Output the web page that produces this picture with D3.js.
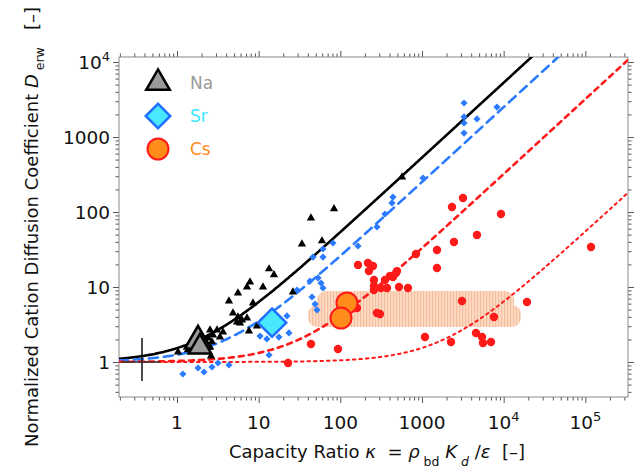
<!DOCTYPE html>
<html>
<head>
<meta charset="utf-8">
<script src="https://cdn.jsdelivr.net/npm/d3@7/dist/d3.min.js"></script>
<style>
  html, body { margin: 0; padding: 0; background: #fff; }
  svg { display: block; font-family: "DejaVu Sans", "Liberation Sans", Arial, sans-serif; }
  text { white-space: pre; }
</style>
</head>
<body>
<svg id="chart" width="640" height="473"></svg>
<script>
// ---- data: [capacity ratio kappa, normalized diffusion coefficient D] ----
const naPoints = [
  [1.03,1.36],[1.36,1.45],[2.08,1.54],[2.54,1.58],[2.68,1.85],[2.40,2.09],[2.76,2.29],
  [2.54,2.67],[3.09,2.67],[3.36,2.15],[3.66,2.51],[2.61,1.20],[4.33,6.51],[4.85,4.50],
  [5.43,3.41],[5.58,3.98],[5.91,3.31],[6.25,3.63],[7.20,3.86],[5.58,8.32],[7.20,10.0],
  [7.83,11.66],[11.3,10.0],[8.52,6.12],[7.61,2.59],[9.54,3.02],[13.4,17.4],[15.4,14.5],
  [26.3,8.58],[33.9,37.4],[43.7,83.2],[59.6,41.1],[83.7,110],[569,293]
];
const srPoints = [
  [1.18,0.692],[1.81,0.832],[2.14,0.736],[2.68,0.858],[3.18,0.97],[4.33,0.912],[13.4,1.24],
  [10.4,2.22],[12.6,2.03],[17.7,2.15],[23.5,2.44],[22.2,4.11],[29.5,9.12],[46.3,25.1],
  [61.3,32.1],[61.3,25.1],[53.3,13.2],[58.0,11.3],[61.3,9.70],[45.0,7.36],[49.0,5.93],
  [51.8,4.94],[42.5,12.0],[81.3,38.6],[164.6,35.2],[281,63.1],[429,132],[441,158],
  [352,94],[1028,284],[3270,2840],[3270,1850],[3270,1540],[4710,1740],[3270,1130],[8280,2510]
];
const csPoints = [
  [3177,153.7],[2330,116.6],[9270,94.0],[4710,49.4],[2465,39.8],[1526,31.1],[1526,17.9],
  [844,27.5],[164.6,19.7],[218,20.9],[251,19.05],[224,16.3],[258,12.4],[258,10.3],
  [258,9.12],[315,9.70],[373,9.70],[523,10.0],[673,9.70],[352,12.4],[405,14.0],[441,13.6],
  [481,15.4],[494,16.3],[160,5.25],[281,4.50],[306,4.37],[3090,6.51],[7610,3.98],
  [19300,6.31],[4580,2.44],[5430,2.15],[5580,1.79],[7000,1.85],[2265,1.85],[1088,2.15],
  [43.7,1.74],[93.6,1.49],[22.9,0.97],[117300,34.1]
];
// averaged values (large markers)
const naMean = [[1.81,1.905],[1.91,1.585]];
const srMean = [[14.6,3.35]];
const csMean = [[120.6,6.12],[101.9,3.86]];

// model curves D = 1 + slope * kappa
const modelSlopes = [
  { name: "Na", slope: 0.53,    color: "#000000", dash: null,   width: 2.6 },
  { name: "Sr", slope: 0.25,    color: "#2b7bff", dash: "9,6",  width: 2.6 },
  { name: "Cs", slope: 0.032,   color: "#ff1a1a", dash: "5,5",  width: 2.6 },
  { name: "Cs2", slope: 0.00054, color: "#ff1a1a", dash: "2.5,4", width: 2 }
];

// range of sorption-based Cs estimates: two overlapping boxes [kMin,kMax,Dmin,Dmax]
const csBand = [
  [51.8, 13370, 4.64, 8.84],
  [40.2, 16300, 2.93, 5.75]
];

// reference mark at D = 1
const refMark = { kappa: 0.373, dLow: 0.558, dHigh: 2.09, kLow: 0.206, kHigh: 0.62, d: 1 };

const xMajor = [1, 10, 100, 1000, 1e4, 1e5];
const xLabels = ["1", "10", "100", "1000", "10^4", "10^5"];
const yMajor = [1, 10, 100, 1000, 1e4];
const yLabels = ["1", "10", "100", "1000", "10^4"];

const legendLabels = ["Na", "Sr", "Cs"];
const legendColors = ["#9a9a9a", "#3de6ff", "#ff8c1a"];

// ---- layout ----
const svg = d3.select("#chart");
const pLeft = 119, pRight = 628, pTop = 57, pBottom = 397;

const x = d3.scaleLog().domain([0.195, 3.33e5]).range([pLeft, pRight]);
const y = d3.scaleLog().domain([0.3415, 11660]).range([pBottom, pTop]);

// hatched fill for the band
const defs = svg.append("defs");
const pat = defs.append("pattern").attr("id", "hatch").attr("patternUnits", "userSpaceOnUse")
  .attr("width", 3).attr("height", 6);
pat.append("rect").attr("width", 3).attr("height", 6).attr("fill", "#fcdcc6");
pat.append("rect").attr("width", 1.2).attr("height", 6).attr("fill", "#f7bd9b");

const clip = defs.append("clipPath").attr("id", "plotclip");
clip.append("rect").attr("x", pLeft).attr("y", pTop).attr("width", pRight - pLeft).attr("height", pBottom - pTop);

// band
svg.append("g").selectAll("rect").data(csBand).join("rect")
  .attr("x", d => x(d[0])).attr("width", d => x(d[1]) - x(d[0]))
  .attr("y", d => y(d[3])).attr("height", d => y(d[2]) - y(d[3]))
  .attr("rx", 9).attr("ry", 9)
  .attr("fill", "url(#hatch)");

// minor ticks
function minorTicks(domain) {
  const out = [];
  for (let e = -1; e <= 6; e++) {
    for (let m = 2; m <= 9; m++) {
      const v = m * Math.pow(10, e);
      if (v >= domain[0] && v <= domain[1]) out.push(v);
    }
  }
  return out;
}
const xMinor = minorTicks(x.domain());
const yMinor = minorTicks(y.domain());

const tickColor = "#555";
function styleAxis(g) {
  g.select(".domain").remove();
  g.selectAll(".tick line").attr("stroke", tickColor).attr("stroke-width", 1);
  g.selectAll(".tick text").remove();
}
// bottom / top
svg.append("g").attr("transform", `translate(0,${pBottom})`)
  .call(d3.axisBottom(x).tickValues(xMajor).tickSize(6).tickFormat("")).call(styleAxis);
svg.append("g").attr("transform", `translate(0,${pBottom})`)
  .call(d3.axisBottom(x).tickValues(xMinor).tickSize(3.5).tickFormat("")).call(styleAxis);
svg.append("g").attr("transform", `translate(0,${pTop})`)
  .call(d3.axisTop(x).tickValues(xMajor).tickSize(6).tickFormat("")).call(styleAxis);
svg.append("g").attr("transform", `translate(0,${pTop})`)
  .call(d3.axisTop(x).tickValues(xMinor).tickSize(3.5).tickFormat("")).call(styleAxis);
// left / right
svg.append("g").attr("transform", `translate(${pLeft},0)`)
  .call(d3.axisLeft(y).tickValues(yMajor).tickSize(6).tickFormat("")).call(styleAxis);
svg.append("g").attr("transform", `translate(${pLeft},0)`)
  .call(d3.axisLeft(y).tickValues(yMinor).tickSize(3.5).tickFormat("")).call(styleAxis);
svg.append("g").attr("transform", `translate(${pRight},0)`)
  .call(d3.axisRight(y).tickValues(yMajor).tickSize(6).tickFormat("")).call(styleAxis);
svg.append("g").attr("transform", `translate(${pRight},0)`)
  .call(d3.axisRight(y).tickValues(yMinor).tickSize(3.5).tickFormat("")).call(styleAxis);

// frame
svg.append("rect").attr("x", pLeft).attr("y", pTop).attr("width", pRight - pLeft).attr("height", pBottom - pTop)
  .attr("fill", "none").attr("stroke", "#8a8a8a").attr("stroke-width", 1);

// tick labels, "10^n" drawn with a superscript
function writeLabel(sel, label) {
  const parts = label.split("^");
  sel.text(null);
  sel.append("tspan").text(parts[0]);
  if (parts[1]) sel.append("tspan").attr("dy", -8).attr("font-size", 13).text(parts[1]);
}
svg.append("g").selectAll("text").data(xMajor).join("text")
  .attr("x", d => x(d)).attr("y", 429)
  .attr("text-anchor", "middle").attr("font-size", 18.5).attr("fill", "#111")
  .each(function(d, i) { writeLabel(d3.select(this), xLabels[i]); });
svg.append("g").selectAll("text").data(yMajor).join("text")
  .attr("x", 110).attr("y", d => y(d) + 7)
  .attr("text-anchor", "end").attr("font-size", 18.5).attr("fill", "#111")
  .each(function(d, i) { writeLabel(d3.select(this), yLabels[i]); });

// model curves
const kGrid = d3.range(0, 401).map(i => Math.pow(10, Math.log10(0.195) + i * (Math.log10(3.33e5) - Math.log10(0.195)) / 400));
const line = d3.line().x(d => x(d[0])).y(d => y(d[1]));
const curves = svg.append("g").attr("clip-path", "url(#plotclip)");
modelSlopes.forEach(m => {
  curves.append("path")
    .attr("d", line(kGrid.map(k => [k, 1 + m.slope * k])))
    .attr("fill", "none").attr("stroke", m.color).attr("stroke-width", m.width)
    .attr("stroke-dasharray", m.dash).attr("stroke-linecap", m.dash ? "round" : "butt");
});

// reference mark
svg.append("line").attr("x1", x(refMark.kappa)).attr("x2", x(refMark.kappa))
  .attr("y1", y(refMark.dLow)).attr("y2", y(refMark.dHigh)).attr("stroke", "#111").attr("stroke-width", 1.5);
svg.append("line").attr("x1", x(refMark.kLow)).attr("x2", x(refMark.kHigh))
  .attr("y1", y(refMark.d)).attr("y2", y(refMark.d)).attr("stroke", "#333").attr("stroke-width", 1.5);

// data points
const pts = svg.append("g").attr("clip-path", "url(#plotclip)");
pts.selectAll(".na").data(naPoints).join("path").attr("class", "na")
  .attr("transform", d => `translate(${x(d[0])},${y(d[1])})`)
  .attr("d", d3.symbol(d3.symbolTriangle, 30)).attr("fill", "#000");
pts.selectAll(".sr").data(srPoints).join("path").attr("class", "sr")
  .attr("transform", d => `translate(${x(d[0])},${y(d[1])}) rotate(45)`)
  .attr("d", d3.symbol(d3.symbolSquare, 26)).attr("fill", "#2b7bff");
pts.selectAll(".cs").data(csPoints).join("circle").attr("class", "cs")
  .attr("cx", d => x(d[0])).attr("cy", d => y(d[1])).attr("r", 4.2).attr("fill", "#ff1a1a");

// mean markers
pts.selectAll(".naM").data(naMean).join("path").attr("class", "naM")
  .attr("transform", d => `translate(${x(d[0])},${y(d[1])})`)
  .attr("d", (d, i) => d3.symbol(d3.symbolTriangle, i === 0 ? 300 : 220)())
  .attr("fill", "#9a9a9a").attr("stroke", "#000").attr("stroke-width", 2.5).attr("stroke-linejoin", "miter");
pts.selectAll(".srM").data(srMean).join("path").attr("class", "srM")
  .attr("transform", d => `translate(${x(d[0])},${y(d[1])}) rotate(45)`)
  .attr("d", d3.symbol(d3.symbolSquare, 400)).attr("fill", "#4ae8ff")
  .attr("stroke", "#1f6fff").attr("stroke-width", 2.5);
pts.selectAll(".csM").data(csMean).join("circle").attr("class", "csM")
  .attr("cx", d => x(d[0])).attr("cy", d => y(d[1])).attr("r", 10.5)
  .attr("fill", "#ff8c1a").attr("stroke", "#ff1a1a").attr("stroke-width", 2);

// legend
const lg = svg.append("g");
const lgRows = lg.selectAll("g").data(legendLabels).join("g")
  .attr("transform", (d, i) => `translate(158,${83 + i * 33})`);
lgRows.filter((d, i) => i === 0).append("path")
  .attr("d", d3.symbol(d3.symbolTriangle, 240)).attr("fill", "#9a9a9a")
  .attr("stroke", "#000").attr("stroke-width", 2.5);
lgRows.filter((d, i) => i === 1).append("path")
  .attr("transform", "rotate(45)")
  .attr("d", d3.symbol(d3.symbolSquare, 300)).attr("fill", "#4ae8ff")
  .attr("stroke", "#1f6fff").attr("stroke-width", 2.5);
lgRows.filter((d, i) => i === 2).append("circle")
  .attr("r", 10.5).attr("fill", "#ff8c1a").attr("stroke", "#ff1a1a").attr("stroke-width", 2);
lgRows.append("text").attr("x", 32).attr("y", 6).attr("font-size", 17)
  .attr("fill", (d, i) => legendColors[i]).text(d => d);

// axis titles
const xt = svg.append("text").attr("x", 377).attr("y", 458).attr("text-anchor", "middle")
  .attr("font-size", 18).attr("fill", "#111");
xt.append("tspan").text("Capacity Ratio ");
xt.append("tspan").attr("font-style", "italic").text("κ");
xt.append("tspan").text("  = ");
xt.append("tspan").attr("font-style", "italic").text("ρ");
xt.append("tspan").attr("font-size", 12.5).attr("dy", 8).text(" bd");
xt.append("tspan").attr("dy", -8).text(" ");
xt.append("tspan").attr("font-style", "italic").text("K");
xt.append("tspan").attr("font-size", 12.5).attr("font-style", "italic").attr("dy", 8).text(" d");
xt.append("tspan").attr("dy", -8).text(" /");
xt.append("tspan").attr("font-style", "italic").text("ε");
xt.append("tspan").text("  [–]");

const yt = svg.append("text").attr("transform", "translate(38,227) rotate(-90)")
  .attr("text-anchor", "middle").attr("font-size", 18).attr("fill", "#111");
yt.append("tspan").text("Normalized Cation Diffusion Coefficient ");
yt.append("tspan").attr("font-style", "italic").text("D");
yt.append("tspan").attr("font-size", 12.5).attr("dy", 6).text(" erw");
yt.append("tspan").attr("dy", -6).text("   [–]");
</script>
</body>
</html>
